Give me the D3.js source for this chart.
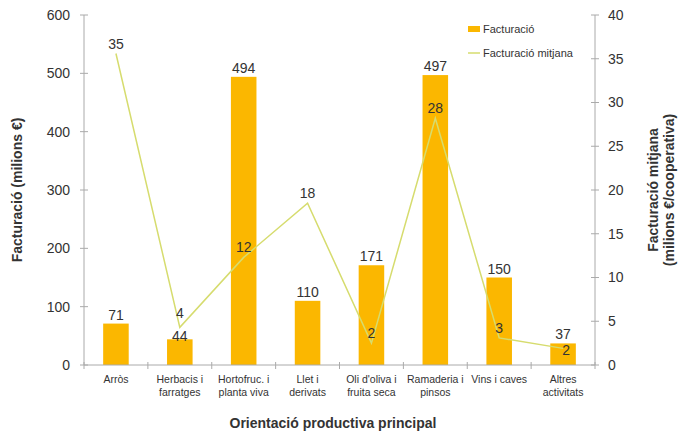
<!DOCTYPE html>
<html><head><meta charset="utf-8">
<script src="https://cdn.jsdelivr.net/npm/d3@7"></script>
<style>body{margin:0;background:#fff}text{font-family:"Liberation Sans",Arial,sans-serif}</style>
</head><body><svg id="c" width="684" height="437"></svg>
<script>
const categories = [["Arròs"],["Herbacis i","farratges"],["Hortofruc. i","planta viva"],["Llet i","derivats"],["Oli d'oliva i","fruita seca"],["Ramaderia i","pinsos"],["Vins i caves"],["Altres","activitats"]];
const facturacio = [71, 44, 494, 110, 171, 497, 150, 37];
const mitjana = [35.6, 4.3, 12.3, 18.5, 2.5, 28.2, 3.1, 1.9];
const mitjanaLabels = ["35","4","12","18","2","28","3","2"];
const leftTicks = [0,100,200,300,400,500,600];
const rightTicks = [0,5,10,15,20,25,30,35,40];

const svg = d3.select("#c");
const L = 84, R = 595, T = 15, B = 365;
const x = d3.scaleBand().domain(d3.range(categories.length)).range([L, R]).paddingInner(0.6).paddingOuter(0.3);
const xb = d3.scaleLinear().domain([0, categories.length]).range([L, R]);
const y = d3.scaleLinear().domain([0, 600]).range([B, T]);
const y2 = d3.scaleLinear().domain([0, 40]).range([B, T]);
const axisCol = "#aaa";

// bars
svg.selectAll("rect.bar").data(facturacio).join("rect").attr("class","bar")
  .attr("x",(d,i)=>x(i)).attr("width",x.bandwidth())
  .attr("y",d=>y(d)).attr("height",d=>B-y(d)).attr("fill","#fbb700");

// left axis
const gl = svg.append("g");
gl.append("line").attr("x1",L).attr("x2",L).attr("y1",T).attr("y2",B).attr("stroke",axisCol);
leftTicks.forEach(t=>{
  gl.append("line").attr("x1",L-4).attr("x2",L+4).attr("y1",y(t)).attr("y2",y(t)).attr("stroke",axisCol);
  gl.append("text").attr("x",70).attr("y",y(t)).attr("dy","0.35em").attr("text-anchor","end")
    .attr("font-size",14).attr("fill","#333").text(t);
});
// right axis
const gr = svg.append("g");
gr.append("line").attr("x1",R).attr("x2",R).attr("y1",T).attr("y2",B).attr("stroke",axisCol);
rightTicks.forEach(t=>{
  gr.append("line").attr("x1",R-4).attr("x2",R+4).attr("y1",y2(t)).attr("y2",y2(t)).attr("stroke",axisCol);
  gr.append("text").attr("x",608).attr("y",y2(t)).attr("dy","0.35em").attr("text-anchor","start")
    .attr("font-size",14).attr("fill","#333").text(t);
});
// x axis
svg.append("line").attr("x1",L).attr("x2",R).attr("y1",B).attr("y2",B).attr("stroke",axisCol);
d3.range(categories.length+1).forEach(i=>{
  svg.append("line").attr("x1",xb(i)).attr("x2",xb(i)).attr("y1",B-3).attr("y2",B+4).attr("stroke",axisCol);
});
categories.forEach((c,i)=>{
  const t = svg.append("text").attr("x",x(i)+x.bandwidth()/2).attr("y",383).attr("text-anchor","middle")
    .attr("font-size",10.5).attr("fill","#333");
  c.forEach((s,j)=>t.append("tspan").attr("x",x(i)+x.bandwidth()/2).attr("dy",j?13:0).text(s));
});

// line
const cx = i => x(i)+x.bandwidth()/2;
svg.append("path").datum(mitjana)
  .attr("d", d3.line().x((d,i)=>cx(i)).y(d=>y2(d)))
  .attr("fill","none").attr("stroke","#d6dc6e").attr("stroke-width",1.5);

// bar labels
svg.selectAll("text.bl").data(facturacio).join("text").attr("class","bl")
  .attr("x",(d,i)=>cx(i)).attr("y",(d,i)=>y(d)+(i===1?2:-4)).attr("text-anchor","middle")
  .attr("font-size",14).attr("fill","#333").text(d=>d);
// line labels
const n = categories.length;
svg.selectAll("text.ll").data(mitjana).join("text").attr("class","ll")
  .attr("x",(d,i)=>cx(i)+(i===n-1?3:0))
  .attr("y",(d,i)=>y2(d)+(i===n-1?7:(i===1?-9:-5))).attr("text-anchor","middle")
  .attr("font-size",14).attr("fill","#333").text((d,i)=>mitjanaLabels[i]);

// titles
svg.append("text").attr("transform","translate(22,190) rotate(-90)").attr("text-anchor","middle")
  .attr("font-size",14).attr("font-weight","bold").attr("fill","#333").text("Facturació (milions €)");
const rt = svg.append("text").attr("transform","translate(658,190) rotate(-90)").attr("text-anchor","middle")
  .attr("font-size",14).attr("font-weight","bold").attr("fill","#333");
rt.append("tspan").attr("x",0).attr("dy",0).text("Facturació mitjana");
rt.append("tspan").attr("x",0).attr("dy",16).text("(milions €/cooperativa)");
svg.append("text").attr("x",333).attr("y",428).attr("text-anchor","middle")
  .attr("font-size",14).attr("font-weight","bold").attr("fill","#333").text("Orientació productiva principal");

// legend
svg.append("rect").attr("x",468).attr("y",26).attr("width",12).attr("height",6).attr("fill","#fbb700");
svg.append("text").attr("x",483).attr("y",29).attr("dy","0.35em").attr("font-size",11).attr("fill","#333").text("Facturació");
svg.append("line").attr("x1",468).attr("x2",480).attr("y1",53).attr("y2",53).attr("stroke","#d6dc6e").attr("stroke-width",1.5);
svg.append("text").attr("x",483).attr("y",53).attr("dy","0.35em").attr("font-size",11).attr("fill","#333").text("Facturació mitjana");
</script></body></html>
